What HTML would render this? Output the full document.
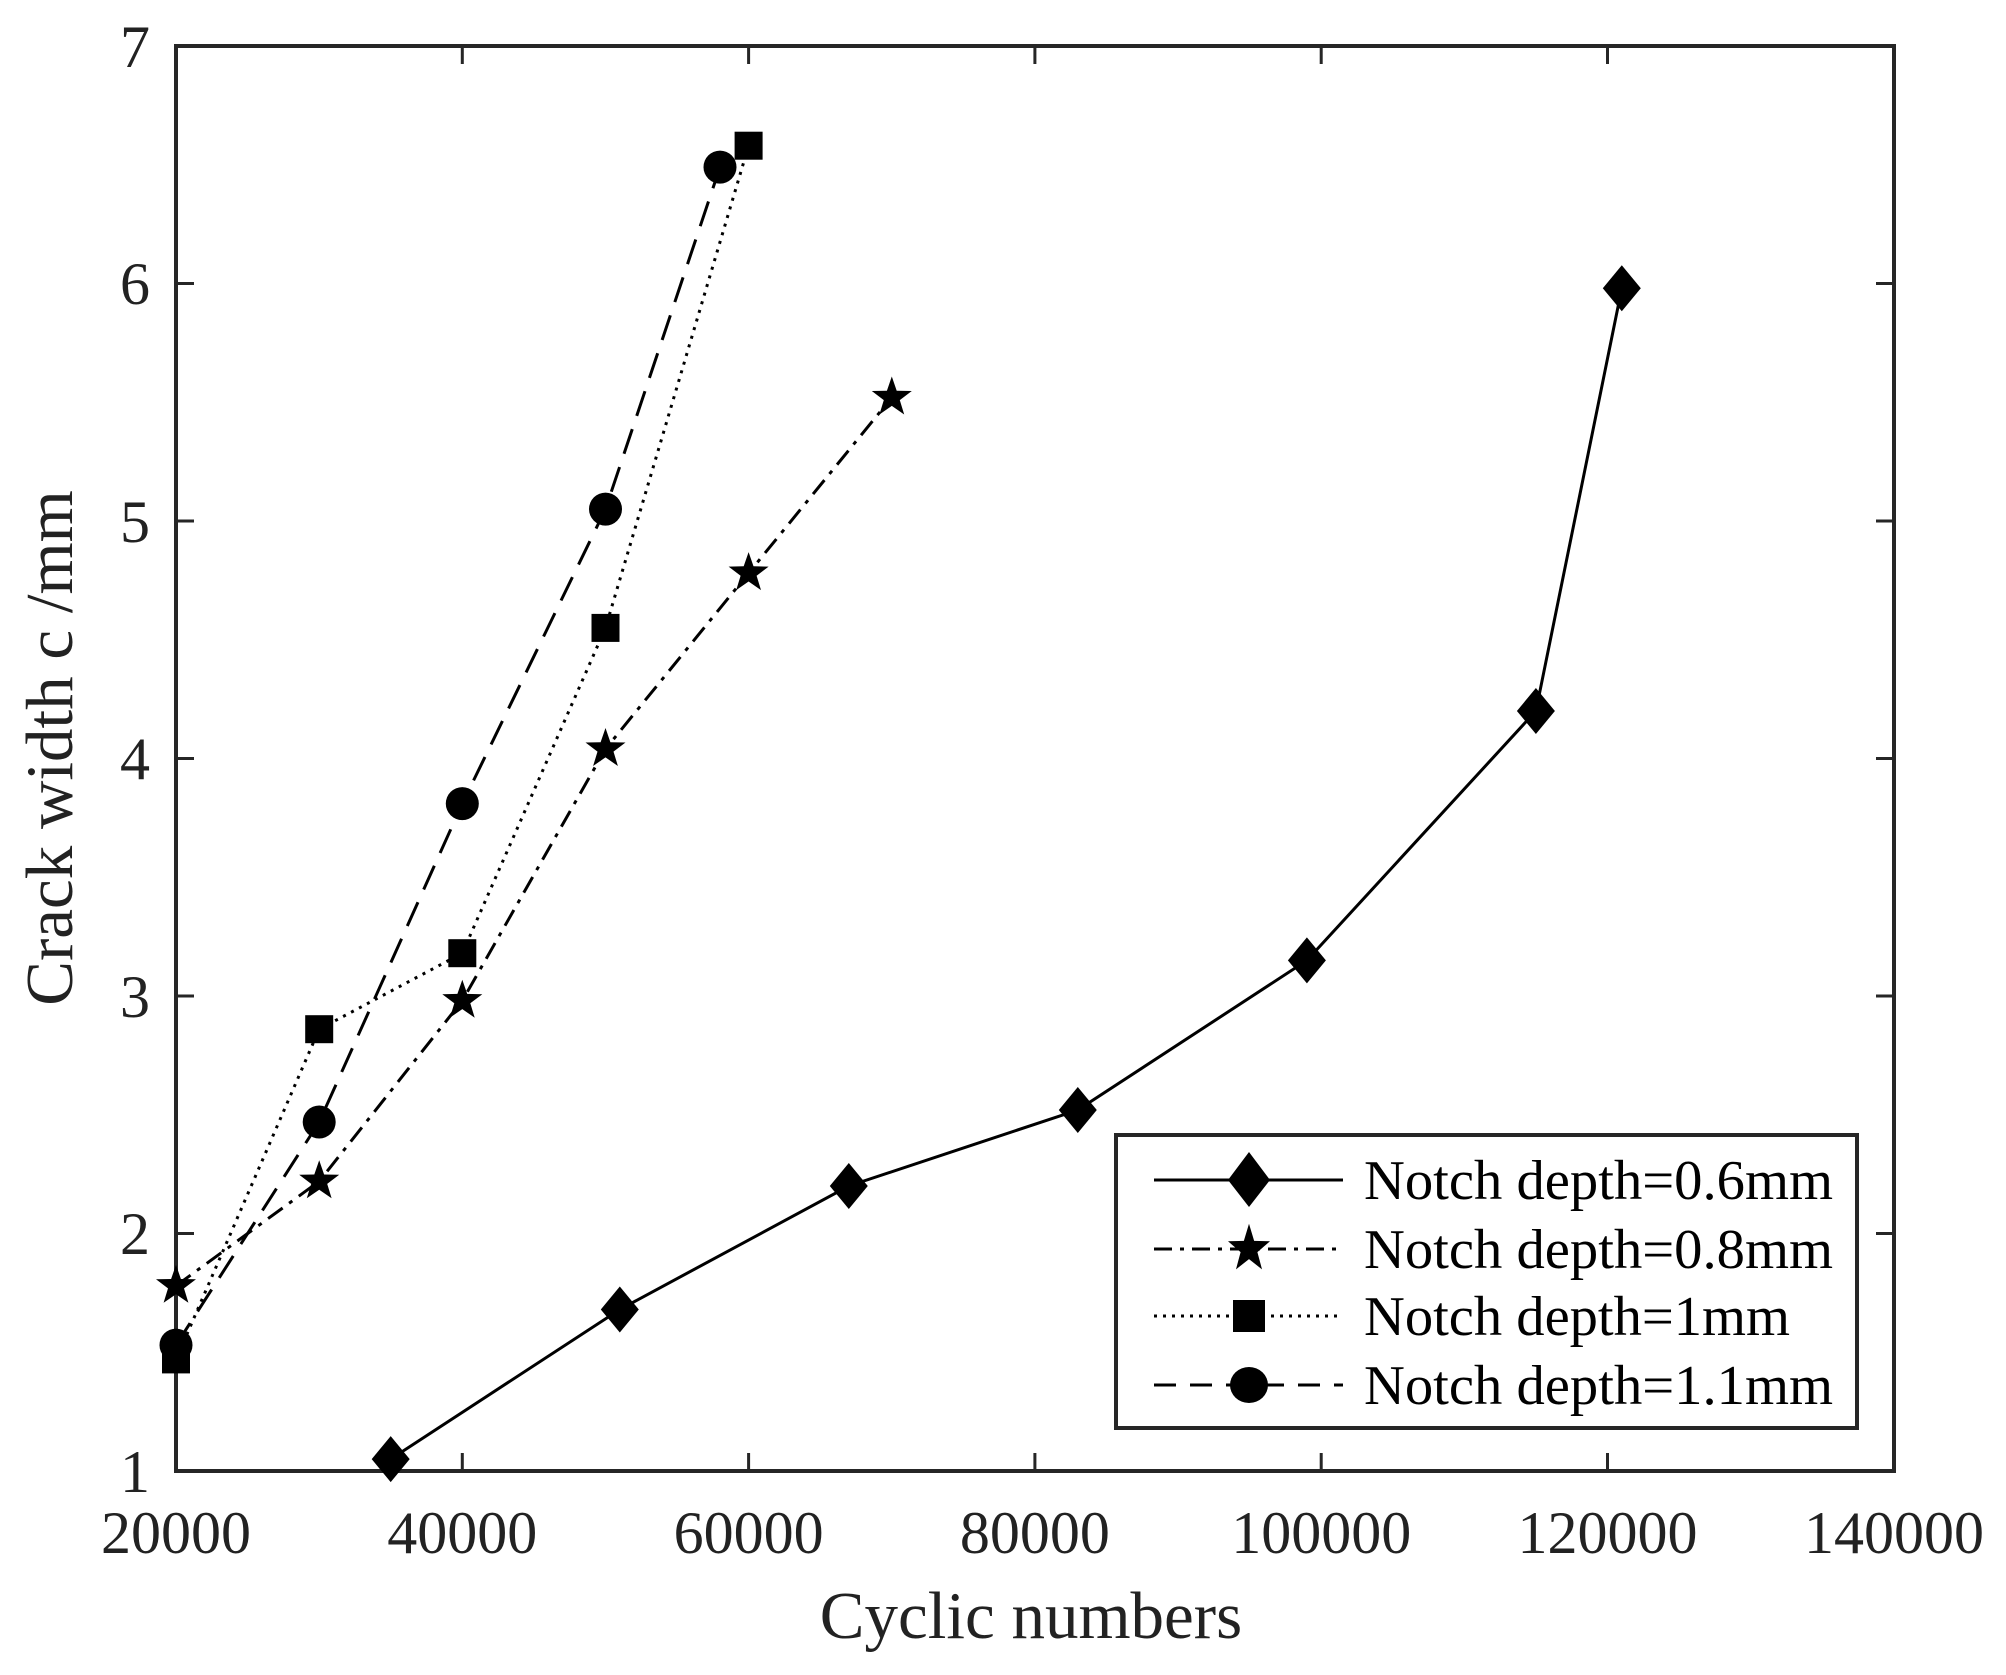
<!DOCTYPE html>
<html><head><meta charset="utf-8"><style>html,body{margin:0;padding:0;background:#fff}svg{display:block}</style></head>
<body>
<svg width="2006" height="1675" viewBox="0 0 2006 1675" xmlns="http://www.w3.org/2000/svg" font-family="'Liberation Serif', serif" fill="#222">
<defs>
<path id="dm" d="M0,-23 L19,0 L0,23 L-19,0 Z" fill="#000"/>
<path id="st" d="M0,-21 L4.9,-6.8 L20,-6.5 L8,2.6 L12.4,17 L0,8.4 L-12.4,17 L-8,2.6 L-20,-6.5 L-4.9,-6.8 Z" fill="#000"/>
<rect id="sq" x="-14" y="-14" width="28" height="28" fill="#000"/>
<circle id="ci" r="16.5" fill="#000"/>
</defs>
<rect width="2006" height="1675" fill="#fff"/>
<rect x="176" y="46" width="1718" height="1425" fill="none" stroke="#262626" stroke-width="4"/>
<g stroke="#262626" stroke-width="3">
<path d="M462.3,1471v-18M748.6,1471v-18M1034.9,1471v-18M1321.2,1471v-18M1607.5,1471v-18"/>
<path d="M462.3,46v18M748.6,46v18M1034.9,46v18M1321.2,46v18M1607.5,46v18"/>
<path d="M176,1233.5h18M176,996h18M176,758.5h18M176,521h18M176,283.5h18"/>
<path d="M1894,1233.5h-18M1894,996h-18M1894,758.5h-18M1894,521h-18M1894,283.5h-18"/>
</g>
<g font-size="60" text-anchor="middle">
<text x="176" y="1553">20000</text>
<text x="462.3" y="1553">40000</text>
<text x="748.6" y="1553">60000</text>
<text x="1034.9" y="1553">80000</text>
<text x="1321.2" y="1553">100000</text>
<text x="1607.5" y="1553">120000</text>
<text x="1894" y="1553">140000</text>
</g>
<g font-size="60" text-anchor="end">
<text x="150" y="1492">1</text>
<text x="150" y="1254">2</text>
<text x="150" y="1017">3</text>
<text x="150" y="779">4</text>
<text x="150" y="542">5</text>
<text x="150" y="304">6</text>
<text x="150" y="67">7</text>
</g>
<text x="1031" y="1638" font-size="67" text-anchor="middle">Cyclic numbers</text>
<text transform="translate(72,748) rotate(-90)" font-size="67" text-anchor="middle">Crack width c /mm</text>
<g fill="none" stroke="#000" stroke-width="3">
<polyline points="390.7,1459.1 619.8,1309.5 848.8,1186 1077.8,1110 1306.9,960.4 1535.9,711 1621.8,288.2"/>
<polyline stroke-dasharray="18,8,4,8" points="176,1285.8 319.2,1181.3 462.3,1000.7 605.5,749 748.6,573.1 891.8,397.5"/>
<polyline stroke-dasharray="3,6" points="176,1359.4 319.2,1029.2 462.3,953.2 605.5,627.9 748.6,145.7"/>
<polyline stroke-dasharray="26,14" points="176,1345.1 319.2,1122 462.3,803.6 605.5,509.1 720,167.1"/>
</g>
<use href="#dm" x="390.7" y="1459.1"/><use href="#dm" x="619.8" y="1309.5"/><use href="#dm" x="848.8" y="1186"/><use href="#dm" x="1077.8" y="1110"/><use href="#dm" x="1306.9" y="960.4"/><use href="#dm" x="1535.9" y="711"/><use href="#dm" x="1621.8" y="288.2"/>
<use href="#st" x="176" y="1285.8"/><use href="#st" x="319.2" y="1181.3"/><use href="#st" x="462.3" y="1000.7"/><use href="#st" x="605.5" y="749"/><use href="#st" x="748.6" y="573.1"/><use href="#st" x="891.8" y="397.5"/>
<use href="#sq" x="176" y="1359.4"/><use href="#sq" x="319.2" y="1029.2"/><use href="#sq" x="462.3" y="953.2"/><use href="#sq" x="605.5" y="627.9"/><use href="#sq" x="748.6" y="145.7"/>
<use href="#ci" x="176" y="1345.1"/><use href="#ci" x="319.2" y="1122"/><use href="#ci" x="462.3" y="803.6"/><use href="#ci" x="605.5" y="509.1"/><use href="#ci" x="720" y="167.1"/>
<rect x="1116" y="1135" width="741" height="293" fill="#fff" stroke="#262626" stroke-width="4"/>
<g fill="none" stroke="#000" stroke-width="3">
<path d="M1154,1180H1343"/>
<path d="M1154,1249H1343" stroke-dasharray="18,8,4,8"/>
<path d="M1154,1316H1343" stroke-dasharray="3,6"/>
<path d="M1154,1385H1343" stroke-dasharray="22,14"/>
</g>
<path d="M1249,1152 L1270,1180 L1249,1207 L1228,1180 Z" fill="#000"/>
<use href="#st" transform="translate(1249,1249) scale(1.05,1.2)"/>
<rect x="1233" y="1300" width="32" height="32" fill="#000"/>
<ellipse cx="1249" cy="1385" rx="19" ry="18" fill="#000"/>
<g font-size="56" fill="#000">
<text x="1364" y="1199" textLength="469" lengthAdjust="spacingAndGlyphs">Notch depth=0.6mm</text>
<text x="1364" y="1268" textLength="469" lengthAdjust="spacingAndGlyphs">Notch depth=0.8mm</text>
<text x="1364" y="1335" textLength="426" lengthAdjust="spacingAndGlyphs">Notch depth=1mm</text>
<text x="1364" y="1404" textLength="469" lengthAdjust="spacingAndGlyphs">Notch depth=1.1mm</text>
</g>
</svg>
</body></html>
